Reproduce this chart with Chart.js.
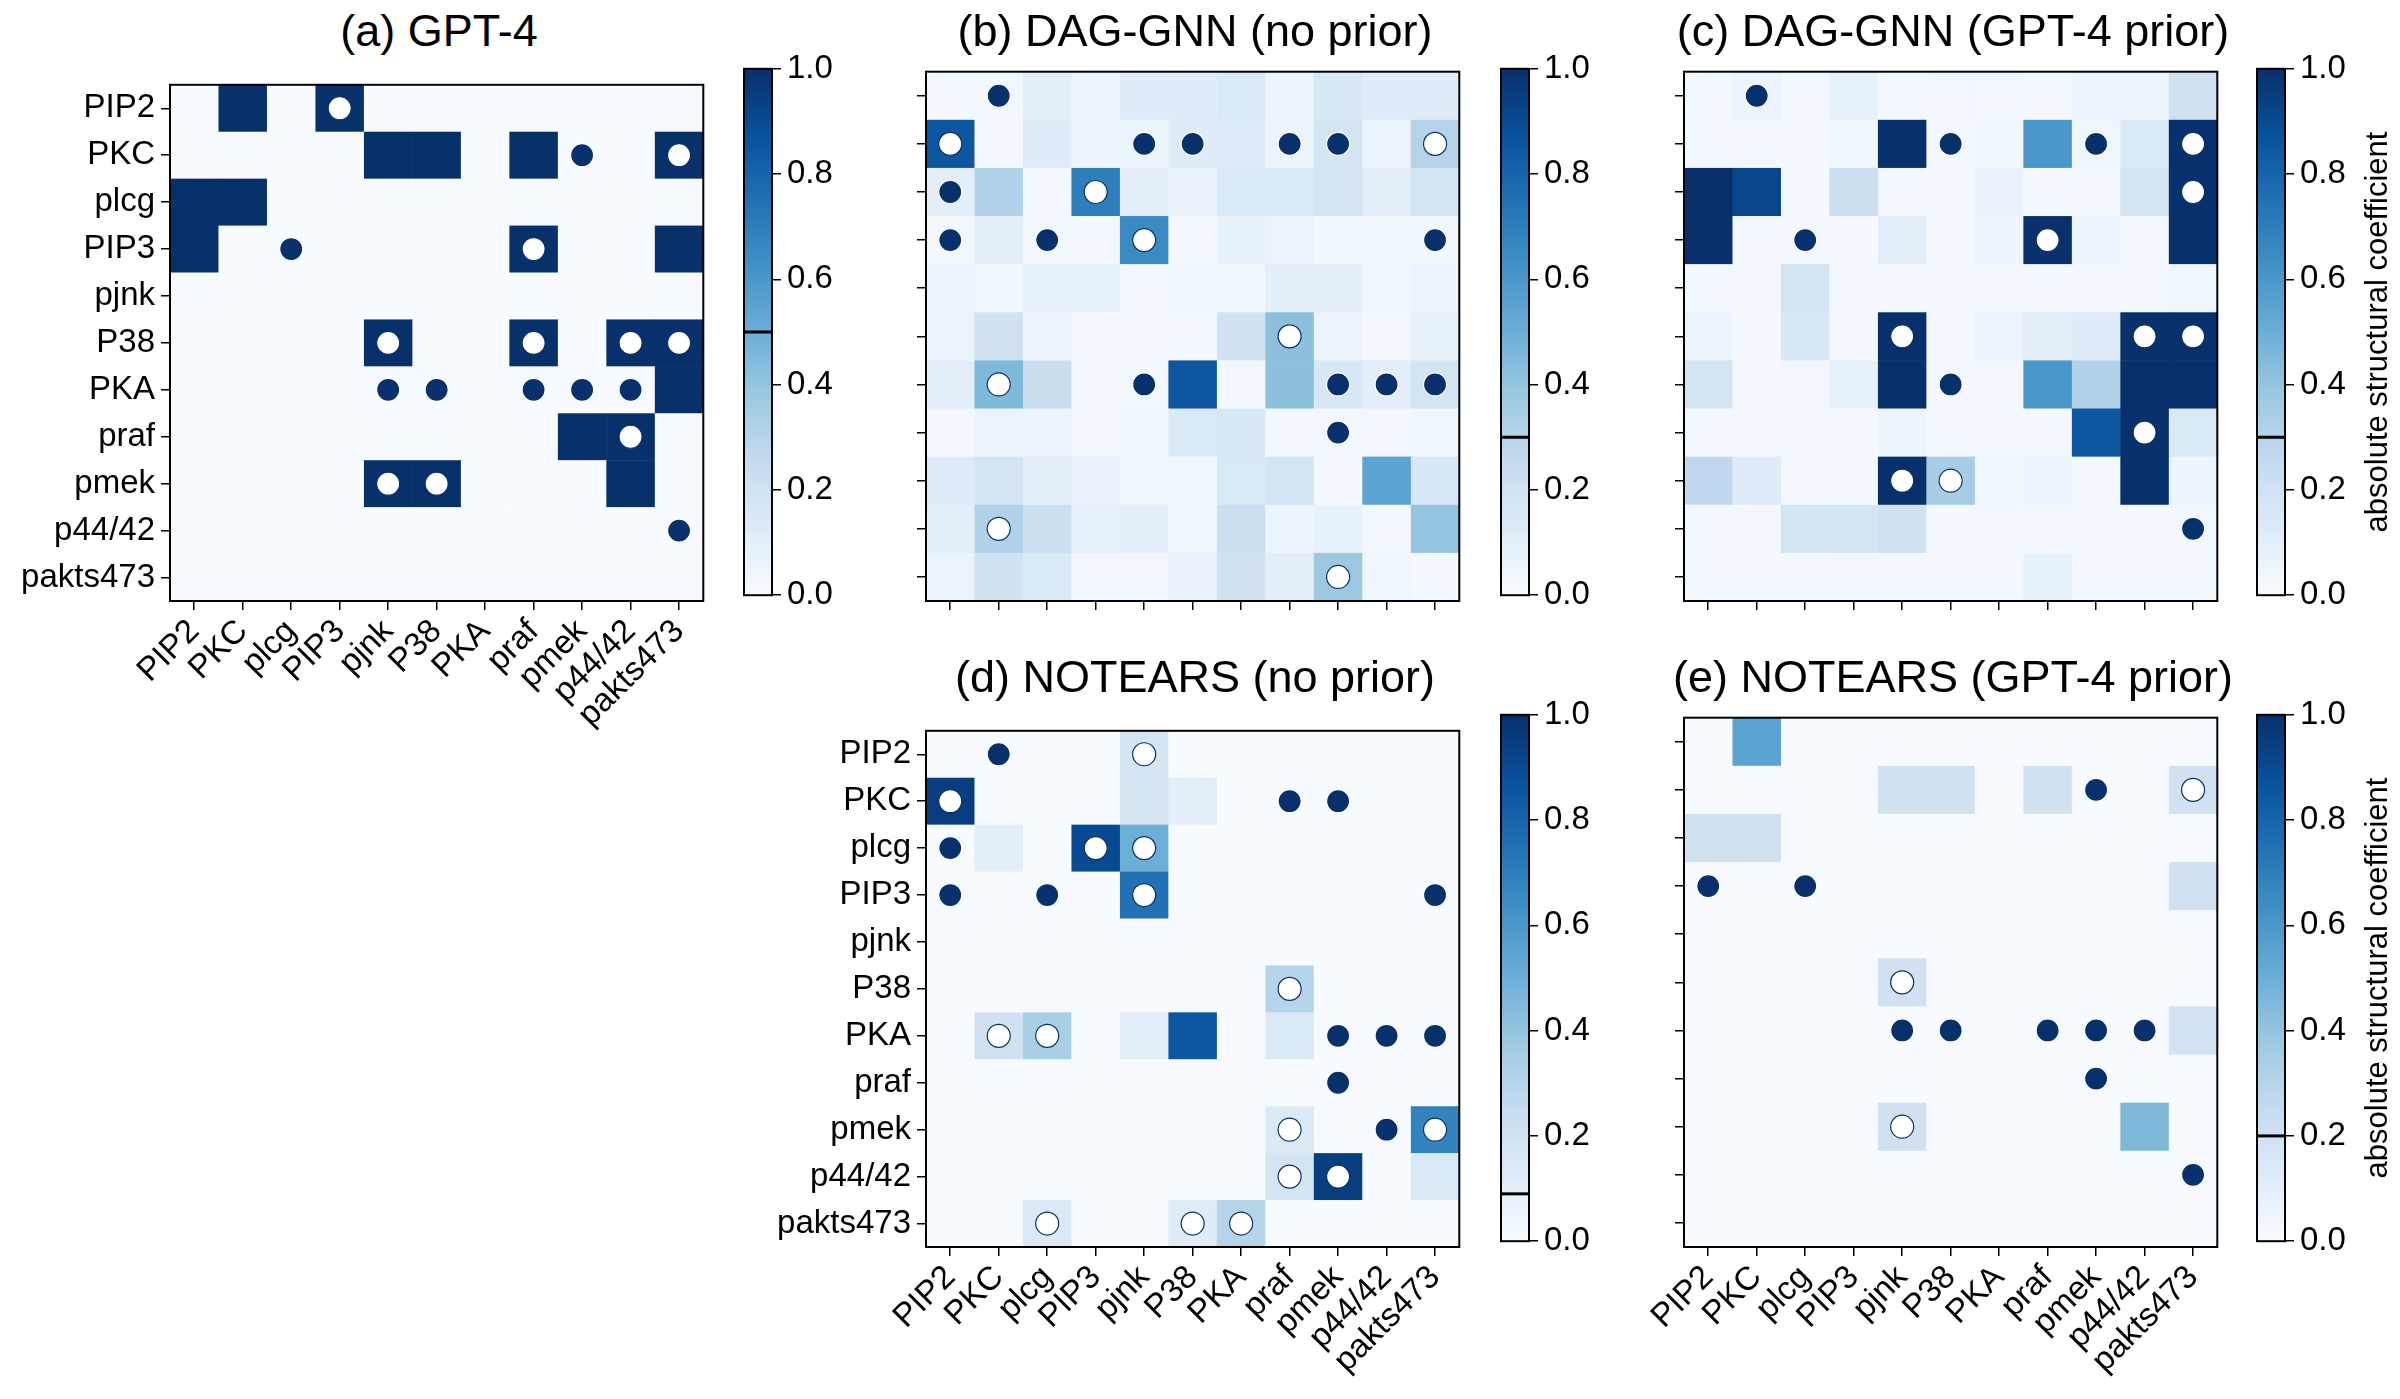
<!DOCTYPE html>
<html lang="en">
<head>
<meta charset="UTF-8">
<title>Structural coefficients</title>
<script src="https://cdn.jsdelivr.net/npm/chart.js"></script>
<style>
  body { margin: 0; background: #fff; }
  #wrap { position: relative; width: 2400px; height: 1399px; overflow: hidden; }
  canvas, .ttl { position: absolute; }
  .ttl { font-family: "Liberation Sans", Arial, sans-serif; font-size: 45px; text-align: center; width: 700px; }
</style>
</head>
<body>
<div id="wrap"></div>
<script>
// variables (rows = from, cols = to)
const nodes = ['PIP2', 'PKC', 'plcg', 'PIP3', 'pjnk', 'P38', 'PKA', 'praf', 'pmek', 'p44/42', 'pakts473'];

const gptValues = [
  [0, 1, 0, 1, 0, 0, 0, 0, 0, 0, 0],
  [0, 0, 0, 0, 1, 1, 0, 1, 0, 0, 1],
  [1, 1, 0, 0, 0, 0, 0, 0, 0, 0, 0],
  [1, 0, 0, 0, 0, 0, 0, 1, 0, 0, 1],
  [0, 0, 0, 0, 0, 0, 0, 0, 0, 0, 0],
  [0, 0, 0, 0, 1, 0, 0, 1, 0, 1, 1],
  [0, 0, 0, 0, 0, 0, 0, 0, 0, 0, 1],
  [0, 0, 0, 0, 0, 0, 0, 0, 1, 1, 0],
  [0, 0, 0, 0, 1, 1, 0, 0, 0, 1, 0],
  [0, 0, 0, 0, 0, 0, 0, 0, 0, 0, 0],
  [0, 0, 0, 0, 0, 0, 0, 0, 0, 0, 0]
];
const dagNoPrior = [
  [0.02, 0.02, 0.10, 0.05, 0.12, 0.12, 0.15, 0.05, 0.16, 0.12, 0.12],
  [0.85, 0.02, 0.12, 0.05, 0.05, 0.12, 0.12, 0.06, 0.18, 0.06, 0.30],
  [0.10, 0.32, 0.02, 0.70, 0.10, 0.07, 0.15, 0.15, 0.18, 0.10, 0.18],
  [0.03, 0.10, 0.03, 0.02, 0.65, 0.02, 0.08, 0.06, 0.04, 0.04, 0.04],
  [0.06, 0.04, 0.08, 0.08, 0.02, 0.04, 0.04, 0.10, 0.10, 0.04, 0.06],
  [0.05, 0.20, 0.06, 0.02, 0.02, 0.02, 0.20, 0.42, 0.06, 0.03, 0.08],
  [0.10, 0.45, 0.23, 0.03, 0.02, 0.85, 0.02, 0.42, 0.16, 0.10, 0.18],
  [0.03, 0.06, 0.06, 0.03, 0.04, 0.14, 0.16, 0.02, 0.03, 0.03, 0.04],
  [0.12, 0.18, 0.10, 0.07, 0.04, 0.04, 0.15, 0.18, 0.02, 0.55, 0.16],
  [0.10, 0.32, 0.22, 0.08, 0.10, 0.04, 0.22, 0.05, 0.08, 0.02, 0.40],
  [0.06, 0.20, 0.15, 0.03, 0.03, 0.07, 0.20, 0.10, 0.38, 0.04, 0.02]
];
const dagGptPrior = [
  [0.02, 0.06, 0.02, 0.08, 0.02, 0.03, 0.03, 0.02, 0.05, 0.05, 0.20],
  [0.02, 0.02, 0.02, 0.04, 1.00, 0.02, 0.04, 0.60, 0.04, 0.15, 1.00],
  [1.00, 0.92, 0.02, 0.22, 0.03, 0.02, 0.07, 0.03, 0.03, 0.18, 1.00],
  [1.00, 0.03, 0.02, 0.02, 0.10, 0.02, 0.05, 1.00, 0.05, 0.02, 1.00],
  [0.02, 0.02, 0.18, 0.02, 0.02, 0.02, 0.02, 0.02, 0.02, 0.02, 0.04],
  [0.06, 0.02, 0.16, 0.02, 1.00, 0.02, 0.06, 0.10, 0.12, 1.00, 1.00],
  [0.18, 0.02, 0.03, 0.08, 1.00, 0.02, 0.03, 0.60, 0.32, 1.00, 1.00],
  [0.02, 0.03, 0.02, 0.02, 0.05, 0.02, 0.02, 0.02, 0.85, 1.00, 0.15],
  [0.27, 0.12, 0.02, 0.02, 1.00, 0.35, 0.04, 0.06, 0.02, 1.00, 0.05],
  [0.02, 0.02, 0.18, 0.18, 0.20, 0.02, 0.03, 0.03, 0.03, 0.02, 0.03],
  [0.02, 0.02, 0.02, 0.03, 0.03, 0.03, 0.02, 0.08, 0.02, 0.03, 0.03]
];
const notearsNoPrior = [
  [0, 0, 0, 0, 0.18, 0, 0, 0, 0, 0, 0],
  [0.95, 0, 0, 0, 0.18, 0.10, 0, 0, 0, 0, 0],
  [0, 0.10, 0, 0.90, 0.50, 0, 0, 0, 0, 0, 0],
  [0, 0, 0, 0, 0.75, 0, 0, 0, 0, 0, 0],
  [0, 0, 0, 0, 0, 0, 0, 0, 0, 0, 0],
  [0, 0, 0, 0, 0, 0, 0, 0.30, 0, 0, 0],
  [0, 0.20, 0.34, 0, 0.10, 0.85, 0, 0.14, 0, 0, 0],
  [0, 0, 0, 0, 0, 0, 0, 0, 0, 0, 0],
  [0, 0, 0, 0, 0, 0, 0, 0.14, 0, 0, 0.68],
  [0, 0, 0, 0, 0, 0, 0, 0.18, 0.95, 0, 0.15],
  [0, 0, 0.14, 0, 0, 0.12, 0.30, 0, 0, 0, 0]
];
const notearsGptPrior = [
  [0, 0.55, 0, 0, 0, 0, 0, 0, 0, 0, 0],
  [0, 0, 0, 0, 0.20, 0.20, 0, 0.20, 0, 0, 0.20],
  [0.20, 0.20, 0, 0, 0, 0, 0, 0, 0, 0, 0],
  [0, 0, 0, 0, 0, 0, 0, 0, 0, 0, 0.20],
  [0, 0, 0, 0, 0, 0, 0, 0, 0, 0, 0],
  [0, 0, 0, 0, 0.20, 0, 0, 0, 0, 0, 0],
  [0, 0, 0, 0, 0, 0, 0, 0, 0, 0, 0.19],
  [0, 0, 0, 0, 0, 0, 0, 0, 0, 0, 0],
  [0, 0, 0, 0, 0.20, 0, 0, 0, 0, 0.45, 0],
  [0, 0, 0, 0, 0, 0, 0, 0, 0, 0, 0],
  [0, 0, 0, 0, 0, 0, 0, 0, 0, 0, 0]
];

// true edges: [row, col, detected (1 = white dot)]
const gptDots = [[0,3,1],[1,8,0],[1,10,1],[3,2,0],[3,7,1],[5,4,1],[5,7,1],[5,9,1],[5,10,1],
  [6,4,0],[6,5,0],[6,7,0],[6,8,0],[6,9,0],[7,9,1],[8,4,1],[8,5,1],[9,10,0]];
const dagNoPriorDots = [[0,1,0],[1,0,1],[1,4,0],[1,5,0],[1,7,0],[1,8,0],[1,10,1],[2,0,0],[2,3,1],
  [3,0,0],[3,2,0],[3,4,1],[3,10,0],[5,7,1],[6,1,1],[6,4,0],[6,8,0],[6,9,0],[6,10,0],[7,8,0],[9,1,1],[10,8,1]];
const dagGptPriorDots = [[0,1,0],[1,5,0],[1,8,0],[1,10,1],[2,10,1],[3,2,0],[3,7,1],[5,4,1],[5,9,1],[5,10,1],
  [6,5,0],[7,9,1],[8,4,1],[8,5,1],[9,10,0]];
const notearsNoPriorDots = [[0,1,0],[0,4,1],[1,0,1],[1,7,0],[1,8,0],[2,0,0],[2,3,1],[2,4,1],[3,0,0],[3,2,0],[3,4,1],[3,10,0],
  [5,7,1],[6,1,1],[6,2,1],[6,8,0],[6,9,0],[6,10,0],[7,8,0],[8,7,1],[8,9,0],[8,10,1],[9,7,1],[9,8,1],[10,2,1],[10,5,1],[10,6,1]];
const notearsGptPriorDots = [[1,8,0],[1,10,1],[3,0,0],[3,2,0],[5,4,1],[6,4,0],[6,5,0],[6,7,0],[6,8,0],[6,9,0],[7,8,0],[8,4,1],[9,10,0]];

const cbTicks = [0, 0.2, 0.4, 0.6, 0.8, 1.0];

const BLUES = ['#f7fbff', '#deebf7', '#c6dbef', '#9ecae1', '#6baed6', '#4292c6', '#2171b5', '#08519c', '#08306b'];
const NAVY = '#08306b';
const FONT = '"Liberation Sans", Arial, sans-serif';
const SIZE = 538;

function hexToRgb(h) { return [1, 3, 5].map(i => parseInt(h.substr(i, 2), 16)); }
function blues(v) {
  v = Math.max(0, Math.min(1, v));
  const p = v * (BLUES.length - 1), i = Math.min(Math.floor(p), BLUES.length - 2), t = p - i;
  const a = hexToRgb(BLUES[i]), b = hexToRgb(BLUES[i + 1]);
  return 'rgb(' + a.map((c, k) => Math.round(c + (b[k] - c) * t)).join(',') + ')';
}

const wrap = document.getElementById('wrap');
function makeCanvas(left, top, w, h) {
  const c = document.createElement('canvas');
  c.style.left = left + 'px'; c.style.top = top + 'px';
  c.style.width = w + 'px'; c.style.height = h + 'px';
  c.width = w; c.height = h;
  wrap.appendChild(c);
  return c;
}

const cellPlugin = {
  id: 'cells',
  beforeDatasetsDraw(chart, args, opts) {
    const { ctx, scales: { x, y } } = chart;
    opts.values.forEach((row, r) => row.forEach((v, c) => {
      const x0 = x.getPixelForValue(c - 0.5), x1 = x.getPixelForValue(c + 0.5);
      const y0 = y.getPixelForValue(r - 0.5), y1 = y.getPixelForValue(r + 0.5);
      ctx.fillStyle = blues(v);
      ctx.fillRect(x0, y0, x1 - x0 + 0.5, y1 - y0 + 0.5);
    }));
  },
  afterDraw(chart) {
    const { ctx, chartArea: a } = chart;
    ctx.save();
    ctx.strokeStyle = '#000'; ctx.lineWidth = 2;
    ctx.strokeRect(a.left, a.top, a.right - a.left, a.bottom - a.top);
    ctx.restore();
  }
};

function heatmap(title, values, dots, left, top, showY, showX) {
  const yw = 165, xh = 160;
  const cv = makeCanvas(left - yw, top - 4, yw + SIZE + 8, SIZE + 4 + xh);
  const t = document.createElement('div');
  t.className = 'ttl'; t.textContent = title;
  t.style.left = (left + SIZE / 2 - 350) + 'px'; t.style.top = (top - 58) + 'px';
  wrap.appendChild(t);
  const tickList = nodes.map((_, i) => ({ value: i }));
  const gridOpts = () => ({ drawOnChartArea: false, drawTicks: true, tickLength: 9, color: '#000', lineWidth: 1.5 });
  new Chart(cv, {
    type: 'scatter',
    data: {
      datasets: [{
        data: dots.map(d => ({ x: d[1], y: d[0] })),
        pointRadius: 11.5, pointHoverRadius: 11.5,
        backgroundColor: dots.map(d => d[2] ? '#ffffff' : NAVY),
        borderColor: dots.map(d => d[2] ? NAVY : '#ffffff'),
        borderWidth: 1.2
      }]
    },
    options: {
      responsive: false, animation: false,
      layout: { padding: { top: 4, right: 8, left: 0, bottom: 0 } },
      plugins: { legend: { display: false }, tooltip: { enabled: false }, cells: { values } },
      scales: {
        x: {
          type: 'linear', min: -0.5, max: 10.5,
          grid: gridOpts(), border: { display: false },
          afterBuildTicks: s => { s.ticks = tickList.slice(); },
          afterFit: s => { s.height = xh; },
          ticks: { display: showX, autoSkip: false, minRotation: 45, maxRotation: 45, color: '#000', padding: 2,
            font: { family: FONT, size: 33 }, callback: v => nodes[v] }
        },
        y: {
          type: 'linear', min: -0.5, max: 10.5, reverse: true,
          grid: gridOpts(), border: { display: false },
          afterBuildTicks: s => { s.ticks = tickList.slice(); },
          afterFit: s => { s.width = yw; },
          ticks: { display: showY, autoSkip: false, padding: 6, color: '#000',
            font: { family: FONT, size: 33 }, callback: v => nodes[v] }
        }
      }
    },
    plugins: [cellPlugin]
  });
}

const cbPlugin = {
  id: 'cbar',
  beforeDatasetsDraw(chart, args, opts) {
    const { ctx, chartArea: a, scales: { y } } = chart;
    const g = ctx.createLinearGradient(0, a.bottom, 0, a.top);
    BLUES.forEach((c, i) => g.addColorStop(i / (BLUES.length - 1), c));
    ctx.save();
    ctx.fillStyle = g;
    ctx.fillRect(a.left, a.top, a.right - a.left, a.bottom - a.top);
    ctx.strokeStyle = '#000'; ctx.lineWidth = 2;
    ctx.strokeRect(a.left, a.top, a.right - a.left, a.bottom - a.top);
    ctx.lineWidth = 3;
    const ty = y.getPixelForValue(opts.threshold);
    ctx.beginPath(); ctx.moveTo(a.left, ty); ctx.lineTo(a.right, ty); ctx.stroke();
    if (opts.label) {
      ctx.translate(a.right + 93, (a.top + a.bottom) / 2);
      ctx.rotate(-Math.PI / 2);
      ctx.fillStyle = '#000'; ctx.font = '31px ' + FONT;
      ctx.textAlign = 'center'; ctx.textBaseline = 'middle';
      ctx.fillText(opts.label, 0, 0);
    }
    ctx.restore();
  }
};

function colorbar(left, top, threshold, label) {
  const cv = makeCanvas(left - 2, top - 20, 2 + 28 + 100 + 20, SIZE + 40);
  new Chart(cv, {
    type: 'scatter',
    data: { datasets: [{ data: [] }] },
    options: {
      responsive: false, animation: false,
      layout: { padding: { top: 20, bottom: 20, left: 2, right: 20 } },
      plugins: { legend: { display: false }, tooltip: { enabled: false }, cbar: { threshold, label } },
      scales: {
        x: { display: false, min: 0, max: 1 },
        y: {
          position: 'right', min: 0, max: 1,
          afterFit: s => { s.width = 100; },
          afterBuildTicks: s => { s.ticks = cbTicks.map(v => ({ value: v })); },
          grid: { drawOnChartArea: false, tickLength: 9, color: '#000', lineWidth: 1.5 },
          border: { display: false },
          ticks: { color: '#000', padding: 6, font: { family: FONT, size: 33 }, callback: v => v.toFixed(1) }
        }
      }
    },
    plugins: [cbPlugin]
  });
}

heatmap('(a) GPT-4', gptValues, gptDots, 170, 63, true, true);
colorbar(744, 63, 0.5, null);
heatmap('(b) DAG-GNN (no prior)', dagNoPrior, dagNoPriorDots, 926, 63, false, false);
colorbar(1501, 63, 0.3, null);
heatmap('(c) DAG-GNN (GPT-4 prior)', dagGptPrior, dagGptPriorDots, 1684, 63, false, false);
colorbar(2257, 63, 0.3, 'absolute structural coefficient');
heatmap('(d) NOTEARS (no prior)', notearsNoPrior, notearsNoPriorDots, 926, 709, true, true);
colorbar(1501, 709, 0.09, null);
heatmap('(e) NOTEARS (GPT-4 prior)', notearsGptPrior, notearsGptPriorDots, 1684, 709, false, true);
colorbar(2257, 709, 0.2, 'absolute structural coefficient');
</script>
</body>
</html>
